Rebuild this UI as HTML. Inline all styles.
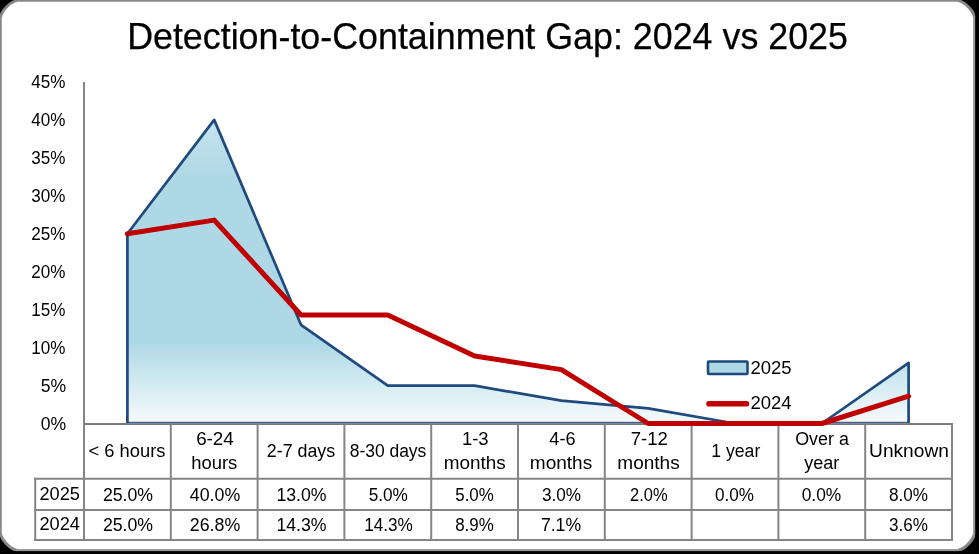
<!DOCTYPE html>
<html><head><meta charset="utf-8"><style>
html,body{margin:0;padding:0;background:#000;width:979px;height:554px;overflow:hidden}
svg{display:block;will-change:transform}
text{font-family:"Liberation Sans", sans-serif;fill:#000}
.t{}
</style></head><body>
<svg width="979" height="554" viewBox="0 0 979 554">
<defs>
<linearGradient id="g" x1="0" y1="82.0" x2="0" y2="423.5" gradientUnits="userSpaceOnUse">
<stop offset="0" stop-color="#D4ECF2"/>
<stop offset="0.28" stop-color="#AFD8E5"/>
<stop offset="0.76" stop-color="#AED8E6"/>
<stop offset="0.985" stop-color="#F2F9FB"/>
<stop offset="1" stop-color="#FFFFFF"/>
</linearGradient>
</defs>
<path d="M15,0 L960.1,0 C964.6,0 975.1,10.5 975.1,15 L975.1,536.1 C975.1,540.6 964.6,551.1 960.1,551.1 L15,551.1 C10.5,551.1 0,540.6 0,536.1 L0,15 C0,10.5 10.5,0 15,0 Z" fill="#888888"/><rect x="973" y="16" width="2.1" height="519" fill="#989898"/><rect x="16" y="549" width="943" height="2.1" fill="#989898"/><path d="M18.8,1.8 L956.1,1.8 C962.9,1.8 973.1,12.0 973.1,18.8 L973.1,532.0 C973.1,538.8 962.9,549.0 956.1,549.0 L18.8,549.0 C12.0,549.0 1.8,538.8 1.8,532.0 L1.8,18.8 C1.8,12.0 12.0,1.8 18.8,1.8 Z" fill="#fff"/>

<g stroke="#858585" stroke-width="2" fill="none" stroke-linecap="square">
<line x1="84.0" y1="423.9" x2="952.0" y2="423.9"/>
<line x1="35.2" y1="478.7" x2="952.0" y2="478.7"/>
<line x1="35.2" y1="509.9" x2="952.0" y2="509.9"/>
<line x1="35.2" y1="539.9" x2="952.0" y2="539.9"/>
<line x1="35.2" y1="478.7" x2="35.2" y2="539.9"/>
<line x1="84.0" y1="423.9" x2="84.0" y2="539.9"/>
<line x1="170.8" y1="423.9" x2="170.8" y2="539.9"/>
<line x1="257.6" y1="423.9" x2="257.6" y2="539.9"/>
<line x1="344.4" y1="423.9" x2="344.4" y2="539.9"/>
<line x1="431.2" y1="423.9" x2="431.2" y2="539.9"/>
<line x1="518.0" y1="423.9" x2="518.0" y2="539.9"/>
<line x1="604.8" y1="423.9" x2="604.8" y2="539.9"/>
<line x1="691.6" y1="423.9" x2="691.6" y2="539.9"/>
<line x1="778.4" y1="423.9" x2="778.4" y2="539.9"/>
<line x1="865.2" y1="423.9" x2="865.2" y2="539.9"/>
<line x1="952.0" y1="423.9" x2="952.0" y2="539.9"/>
</g>
<path d="M127.4,423.5 L127.4,233.8 L214.2,119.9 L301.0,324.8 L387.8,385.6 L474.6,385.6 L561.4,400.7 L648.2,408.3 L735.0,423.5 L821.8,423.5 L908.6,362.8 L908.6,423.5 Z" fill="url(#g)"/>
<line x1="127.4" y1="422.5" x2="908.6" y2="422.5" stroke="#3F6396" stroke-width="1.6"/>
<line x1="84.0" y1="424.1" x2="952.0" y2="424.1" stroke="#7A7A7A" stroke-width="1.6"/>
<path d="M127.4,423.0 L127.4,233.8 L214.2,119.9 L301.0,324.8 L387.8,385.6 L474.6,385.6 L561.4,400.7 L648.2,408.3 L735.0,423.5 L821.8,423.5 L908.6,362.8 L908.6,423.0" fill="none" stroke="#1F4A7E" stroke-width="2.7" stroke-linejoin="round"/>
<path d="M127.4,233.8 L214.2,220.1 L301.0,315.0 L387.8,315.0 L474.6,356.0 L561.4,369.6 L648.2,423.5 L735.0,423.5 L821.8,423.5 L908.6,396.2" fill="none" stroke="#C00000" stroke-width="5" stroke-linejoin="round" stroke-linecap="round"/>
<line x1="84.0" y1="82.0" x2="84.0" y2="423.5" stroke="#858585" stroke-width="2"/>
<rect x="708" y="361.5" width="39.5" height="12.5" rx="0.8" fill="#AED8E6" stroke="#1F4A7E" stroke-width="2.6"/>
<line x1="709" y1="403.7" x2="746.5" y2="403.7" stroke="#C00000" stroke-width="5.6" stroke-linecap="round"/>
<text id="title" x="487.53" y="49.3" font-size="37" text-anchor="middle" textLength="720.81" lengthAdjust="spacingAndGlyphs" stroke="#000" stroke-width="0.25">Detection-to-Containment Gap: 2024 vs 2025</text>
<text id="y0" x="53.51" y="429.5" font-size="18" text-anchor="middle" textLength="25.43" lengthAdjust="spacingAndGlyphs">0%</text>
<text id="y1" x="53.51" y="391.5" font-size="18" text-anchor="middle" textLength="25.43" lengthAdjust="spacingAndGlyphs">5%</text>
<text id="y2" x="48.27" y="353.5" font-size="18" text-anchor="middle" textLength="34.16" lengthAdjust="spacingAndGlyphs">10%</text>
<text id="y3" x="48.27" y="315.5" font-size="18" text-anchor="middle" textLength="34.16" lengthAdjust="spacingAndGlyphs">15%</text>
<text id="y4" x="48.26" y="277.5" font-size="18" text-anchor="middle" textLength="34.18" lengthAdjust="spacingAndGlyphs">20%</text>
<text id="y5" x="48.26" y="239.5" font-size="18" text-anchor="middle" textLength="34.18" lengthAdjust="spacingAndGlyphs">25%</text>
<text id="y6" x="48.26" y="201.5" font-size="18" text-anchor="middle" textLength="34.18" lengthAdjust="spacingAndGlyphs">30%</text>
<text id="y7" x="48.26" y="163.5" font-size="18" text-anchor="middle" textLength="34.18" lengthAdjust="spacingAndGlyphs">35%</text>
<text id="y8" x="48.26" y="125.5" font-size="18" text-anchor="middle" textLength="34.18" lengthAdjust="spacingAndGlyphs">40%</text>
<text id="y9" x="48.26" y="87.5" font-size="18" text-anchor="middle" textLength="34.18" lengthAdjust="spacingAndGlyphs">45%</text>
<text id="h0" x="127.00" y="457.3" font-size="18" text-anchor="middle" textLength="77.00" lengthAdjust="spacingAndGlyphs">&lt; 6 hours</text>
<text id="h1a" x="214.97" y="445.1" font-size="18" text-anchor="middle" textLength="37.69" lengthAdjust="spacingAndGlyphs">6-24</text>
<text id="h1b" x="214.23" y="469.0" font-size="18" text-anchor="middle" textLength="46.07" lengthAdjust="spacingAndGlyphs">hours</text>
<text id="h2" x="301.00" y="457.3" font-size="18" text-anchor="middle" textLength="68.45" lengthAdjust="spacingAndGlyphs">2-7 days</text>
<text id="h3" x="388.00" y="457.3" font-size="18" text-anchor="middle" textLength="76.65" lengthAdjust="spacingAndGlyphs">8-30 days</text>
<text id="h4a" x="475.23" y="445.1" font-size="18" text-anchor="middle" textLength="26.66" lengthAdjust="spacingAndGlyphs">1-3</text>
<text id="h4b" x="474.72" y="469.0" font-size="18" text-anchor="middle" textLength="62.10" lengthAdjust="spacingAndGlyphs">months</text>
<text id="h5a" x="562.49" y="445.1" font-size="18" text-anchor="middle" textLength="26.24" lengthAdjust="spacingAndGlyphs">4-6</text>
<text id="h5b" x="561.02" y="469.0" font-size="18" text-anchor="middle" textLength="62.37" lengthAdjust="spacingAndGlyphs">months</text>
<text id="h6a" x="649.25" y="445.1" font-size="18" text-anchor="middle" textLength="37.08" lengthAdjust="spacingAndGlyphs">7-12</text>
<text id="h6b" x="648.50" y="469.0" font-size="18" text-anchor="middle" textLength="62.34" lengthAdjust="spacingAndGlyphs">months</text>
<text id="h7" x="735.75" y="457.3" font-size="18" text-anchor="middle" textLength="49.02" lengthAdjust="spacingAndGlyphs">1 year</text>
<text id="h8a" x="822.01" y="445.1" font-size="18" text-anchor="middle" textLength="53.64" lengthAdjust="spacingAndGlyphs">Over a</text>
<text id="h8b" x="821.75" y="469.0" font-size="18" text-anchor="middle" textLength="35.04" lengthAdjust="spacingAndGlyphs">year</text>
<text id="h9" x="908.99" y="457.3" font-size="18" text-anchor="middle" textLength="79.77" lengthAdjust="spacingAndGlyphs">Unknown</text>
<text id="r1_0" x="128.00" y="501.0" font-size="18" text-anchor="middle" textLength="50.21" lengthAdjust="spacingAndGlyphs">25.0%</text>
<text id="r2_0" x="128.00" y="530.6" font-size="18" text-anchor="middle" textLength="50.21" lengthAdjust="spacingAndGlyphs">25.0%</text>
<text id="r1_1" x="215.00" y="501.0" font-size="18" text-anchor="middle" textLength="50.45" lengthAdjust="spacingAndGlyphs">40.0%</text>
<text id="r2_1" x="215.00" y="530.6" font-size="18" text-anchor="middle" textLength="50.45" lengthAdjust="spacingAndGlyphs">26.8%</text>
<text id="r1_2" x="301.50" y="501.0" font-size="18" text-anchor="middle" textLength="50.21" lengthAdjust="spacingAndGlyphs">13.0%</text>
<text id="r2_2" x="301.50" y="530.6" font-size="18" text-anchor="middle" textLength="50.21" lengthAdjust="spacingAndGlyphs">14.3%</text>
<text id="r1_3" x="388.27" y="501.0" font-size="18" text-anchor="middle" textLength="39.18" lengthAdjust="spacingAndGlyphs">5.0%</text>
<text id="r2_3" x="388.51" y="530.6" font-size="18" text-anchor="middle" textLength="48.77" lengthAdjust="spacingAndGlyphs">14.3%</text>
<text id="r1_4" x="474.51" y="501.0" font-size="18" text-anchor="middle" textLength="38.53" lengthAdjust="spacingAndGlyphs">5.0%</text>
<text id="r2_4" x="474.48" y="530.6" font-size="18" text-anchor="middle" textLength="38.57" lengthAdjust="spacingAndGlyphs">8.9%</text>
<text id="r1_5" x="561.51" y="501.0" font-size="18" text-anchor="middle" textLength="39.14" lengthAdjust="spacingAndGlyphs">3.0%</text>
<text id="r2_5" x="561.01" y="530.6" font-size="18" text-anchor="middle" textLength="40.20" lengthAdjust="spacingAndGlyphs">7.1%</text>
<text id="r1_6" x="648.78" y="501.0" font-size="18" text-anchor="middle" textLength="37.55" lengthAdjust="spacingAndGlyphs">2.0%</text>
<text id="r1_7" x="734.50" y="501.0" font-size="18" text-anchor="middle" textLength="38.97" lengthAdjust="spacingAndGlyphs">0.0%</text>
<text id="r1_8" x="821.50" y="501.0" font-size="18" text-anchor="middle" textLength="39.58" lengthAdjust="spacingAndGlyphs">0.0%</text>
<text id="r1_9" x="908.52" y="501.0" font-size="18" text-anchor="middle" textLength="39.00" lengthAdjust="spacingAndGlyphs">8.0%</text>
<text id="r2_9" x="908.52" y="530.6" font-size="18" text-anchor="middle" textLength="39.00" lengthAdjust="spacingAndGlyphs">3.6%</text>
<text id="l2025" x="59.75" y="499.5" font-size="18" text-anchor="middle" textLength="40.49" lengthAdjust="spacingAndGlyphs">2025</text>
<text id="l2024" x="59.75" y="530.0" font-size="18" text-anchor="middle" textLength="40.48" lengthAdjust="spacingAndGlyphs">2024</text>
<text id="g2025" x="771.00" y="373.8" font-size="18" text-anchor="middle" textLength="41.10" lengthAdjust="spacingAndGlyphs">2025</text>
<text id="g2024" x="770.99" y="409.2" font-size="18" text-anchor="middle" textLength="41.10" lengthAdjust="spacingAndGlyphs">2024</text>
</svg></body></html>
